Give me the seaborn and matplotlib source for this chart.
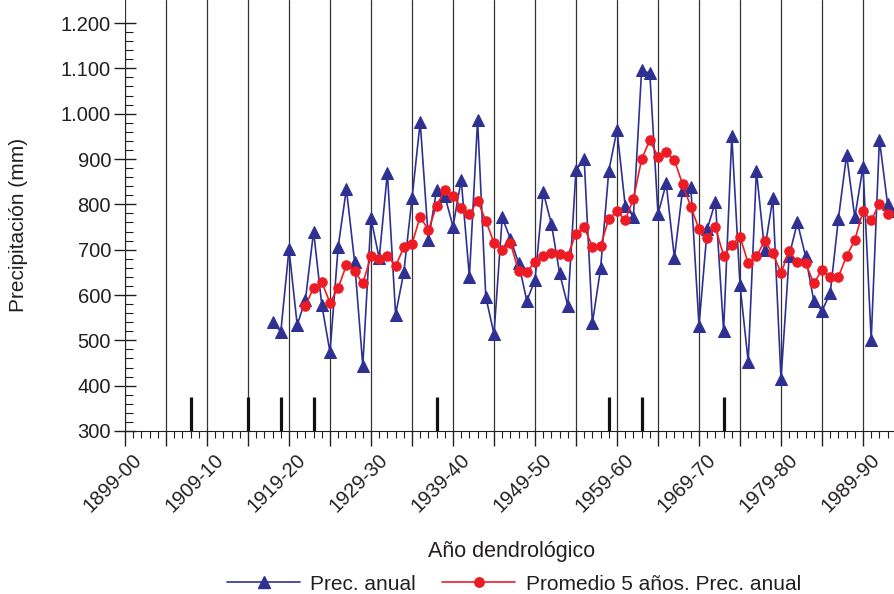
import matplotlib
matplotlib.use("Agg")
import matplotlib.pyplot as plt
import matplotlib.transforms as mtransforms
import seaborn as sns
import pandas as pd
from matplotlib.lines import Line2D
from matplotlib.ticker import MultipleLocator, FixedLocator

# ---------------- data ----------------
prec_years = list(range(1917, 1994))  # start year of each dendrological year
prec_anual = [541, 519, 701, 534, 589, 740, 578, 474, 707, 834,
              673, 444, 769, 681, 870, 557, 650, 813, 982, 721,
              832, 819, 751, 854, 640, 986, 596, 514, 771, 724,
              671, 587, 633, 827, 757, 648, 576, 876, 899, 538,
              659, 874, 964, 797, 773, 1096, 1089, 779, 846, 682,
              832, 839, 532, 745, 806, 521, 951, 622, 453, 874,
              699, 813, 414, 687, 760, 685, 587, 565, 604, 768,
              909, 771, 883, 501, 943, 800, 785]
prom_years = list(range(1921, 1993))
promedio5 = [576, 616, 628, 583, 616, 666, 652, 626, 685, 679,
             687, 664, 705, 713, 773, 743, 797, 832, 819, 793,
             778, 808, 764, 715, 699, 715, 653, 651, 673, 686,
             693, 690, 687, 735, 749, 707, 709, 768, 785, 765,
             812, 899, 942, 905, 915, 898, 844, 795, 745, 725,
             749, 687, 710, 729, 670, 685, 719, 692, 649, 696,
             673, 670, 626, 655, 639, 640, 686, 721, 785, 765,
             801, 779]
marker_years = [1907, 1914, 1918, 1922, 1937, 1958, 1962, 1972]
marker_top = [375, 375, 375, 375, 375, 375, 375, 375]
x_tick_years = [1899, 1909, 1919, 1929, 1939, 1949, 1959, 1969, 1979, 1989]
x_tick_labels = ["1899-00", "1909-10", "1919-20", "1929-30", "1939-40",
                 "1949-50", "1959-60", "1969-70", "1979-80", "1989-90"]
y_ticks = [300, 400, 500, 600, 700, 800, 900, 1000, 1100, 1200]
y_tick_labels = ["300", "400", "500", "600", "700", "800", "900",
                 "1.000", "1.100", "1.200"]

df_prec = pd.DataFrame({"year": prec_years, "mm": prec_anual})
df_prom = pd.DataFrame({"year": prom_years, "mm": promedio5})

# ---------------- style ----------------
sns.set_style("ticks")
plt.rcParams["font.family"] = ["Liberation Sans", "DejaVu Sans"]
TXT = "#231f20"
BLUE = "#2e3192"
RED = "#ed1c24"
FS = 15

fig = plt.figure(figsize=(8.94, 5.94), dpi=100)
ax = fig.add_axes([125 / 894, 1 - 431 / 594, 1 - 125 / 894, 431 / 594])

# event bars
ax.vlines(marker_years, 300, marker_top, color="#111111", lw=2.3, zorder=2)

sns.lineplot(data=df_prec, x="year", y="mm", ax=ax, color=BLUE, lw=1.2,
             marker="^", markersize=8.5, markeredgecolor=BLUE, zorder=3,
             legend=False)
sns.lineplot(data=df_prom, x="year", y="mm", ax=ax, color=RED, lw=1.2,
             marker="o", markersize=6.8, markeredgecolor=RED, zorder=4,
             legend=False)

ax.set_xlim(1899, 1899 + (894 - 125) / 8.2)
ax.set_ylim(300, 300 + 431 / 0.4533)

# x axis
ax.xaxis.set_major_locator(FixedLocator(list(range(1899, 1995, 5))))
ax.set_xticklabels([x_tick_labels[x_tick_years.index(v)] if v in x_tick_years else ""
                    for v in range(1899, 1995, 5)],
                   rotation=45, ha="right", va="top", rotation_mode="anchor",
                   fontsize=FS - 0.5, color=TXT)
ax.xaxis.set_minor_locator(MultipleLocator(1))
ax.tick_params(axis="x", which="major", direction="out", length=11, width=1,
               color=TXT, pad=3)
ax.tick_params(axis="x", which="minor", direction="out", length=5, width=0.8,
               color=TXT)
ax.grid(axis="x", which="major", color="#333333", lw=0.9)
shift = mtransforms.ScaledTranslation(7 / 100, 0, fig.dpi_scale_trans)
for lbl in ax.get_xticklabels():
    lbl.set_transform(lbl.get_transform() + shift)

# y axis
ax.yaxis.set_major_locator(FixedLocator(y_ticks))
ax.set_yticklabels(y_tick_labels, fontsize=FS - 0.5, color=TXT)
ax.yaxis.set_minor_locator(FixedLocator([v for v in range(300, 1201, 20)]))
ax.tick_params(axis="y", which="major", direction="inout", length=16, width=1,
               color=TXT, pad=2)
ax.tick_params(axis="y", which="minor", direction="in", length=6, width=0.8,
               color=TXT)

ax.spines["top"].set_visible(False)
ax.spines["right"].set_visible(False)
ax.spines["left"].set_bounds(300, 1200)
ax.spines["left"].set_color(TXT)
ax.spines["bottom"].set_color(TXT)

ax.set_xlabel("")
ax.set_ylabel("")
fig.text(19 / 894, 1 - 225 / 594, "Precipitación (mm)", rotation=90,
         ha="center", va="center", fontsize=FS, color=TXT)
fig.text(512 / 894, 1 - 551 / 594, "Año dendrológico", ha="center",
         va="center", fontsize=FS + 0.5, color=TXT)

handles = [
    Line2D([], [], color=BLUE, lw=1.2, marker="^", markersize=8.5),
    Line2D([], [], color=RED, lw=1.2, marker="o", markersize=6.8),
]
fig.legend(handles, ["Prec. anual", "Promedio 5 años. Prec. anual"],
           loc="center", bbox_to_anchor=(514 / 894, 1 - 584 / 594), ncol=2,
           frameon=False, fontsize=FS, handlelength=3.5, handletextpad=0.5,
           columnspacing=1.25, labelcolor=TXT)

fig.savefig("out.png", dpi=100)
